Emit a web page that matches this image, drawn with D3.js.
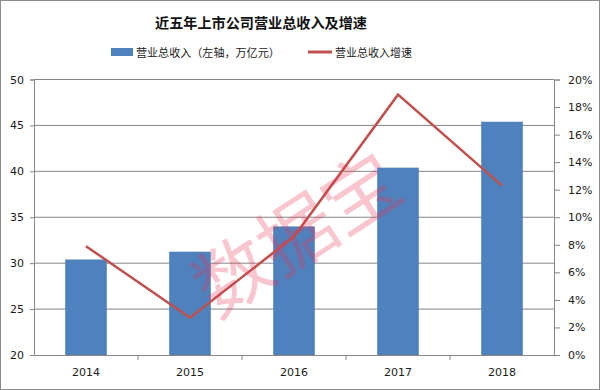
<!DOCTYPE html>
<html>
<head>
<meta charset="utf-8">
<script src="https://cdn.jsdelivr.net/npm/d3@7"></script>
<style>
  body { margin: 0; background: #fff; }
  svg text { font-family: "DejaVu Sans", "Noto Sans CJK SC", sans-serif; }
  .cjk { font-family: "Noto Sans CJK SC", sans-serif !important; }
</style>
</head>
<body>
<div id="chart-area"></div>
<script>
const FIGURE = { WIDTH: 600, HEIGHT: 390 };
const MARGINS = { LEFT: 34, TOP: 79.5, RIGHT: 46, BOTTOM: 35 };
const PLOT = {
    WIDTH: FIGURE.WIDTH - MARGINS.LEFT - MARGINS.RIGHT,
    HEIGHT: FIGURE.HEIGHT - MARGINS.TOP - MARGINS.BOTTOM
};

// data
const years = ["2014", "2015", "2016", "2017", "2018"];
const revenue = [30.4, 31.25, 34.0, 40.4, 45.4];      // 万亿元, left axis
const growth = [7.9, 2.7, 8.6, 18.9, 12.3];           // %, right axis
const leftTicks = [20, 25, 30, 35, 40, 45, 50];
const rightTicks = [0, 2, 4, 6, 8, 10, 12, 14, 16, 18, 20];

const title = "近五年上市公司营业总收入及增速";
const barLabel = "营业总收入（左轴，万亿元）";
const lineLabel = "营业总收入增速";

let svg = d3.select("#chart-area")
    .append("svg")
        .attr("width", FIGURE.WIDTH)
        .attr("height", FIGURE.HEIGHT);

// outer frame
svg.append("rect")
    .attr("x", 0.5).attr("y", 0.5)
    .attr("width", FIGURE.WIDTH - 1).attr("height", FIGURE.HEIGHT - 1)
    .attr("fill", "#fff").attr("stroke", "#8c8c8c");

let plot = svg.append("g")
    .attr("transform", `translate(${MARGINS.LEFT}, ${MARGINS.TOP})`);

let x = d3.scaleBand().domain(years).range([0, PLOT.WIDTH]).paddingInner(0.6).paddingOuter(0.3);
let xPoint = d3.scaleBand().domain(years).range([0, PLOT.WIDTH]);
let y = d3.scaleLinear().domain([20, 50]).range([PLOT.HEIGHT, 0]);
let y2 = d3.scaleLinear().domain([0, 20]).range([PLOT.HEIGHT, 0]);

// gridlines
plot.append("g")
    .selectAll("line")
    .data(leftTicks.slice(1))
    .enter()
    .append("line")
        .attr("x1", 0).attr("x2", PLOT.WIDTH)
        .attr("y1", d => y(d)).attr("y2", d => y(d))
        .attr("stroke", "#868686");

// bars
plot.selectAll("rect.bar")
    .data(years)
    .enter()
    .append("rect")
        .attr("class", "bar")
        .attr("x", d => x(d))
        .attr("width", x.bandwidth())
        .attr("y", (d, i) => y(revenue[i]))
        .attr("height", (d, i) => PLOT.HEIGHT - y(revenue[i]))
        .attr("fill", "#4f81bd");

// watermark, semi-transparent over the bars
svg.append("text")
    .attr("class", "cjk")
    .attr("transform", "translate(294, 230) rotate(-33)")
    .attr("text-anchor", "middle")
    .attr("dominant-baseline", "central")
    .attr("font-size", 76)
    .attr("fill", "#eb3250")
    .attr("opacity", 0.27)
    .text("数据宝");

// axes
let yAxis = d3.axisLeft(y).tickValues(leftTicks).tickSize(4).tickPadding(6);
let gy = plot.append("g").call(yAxis);
let y2Axis = d3.axisRight(y2).tickValues(rightTicks).tickSize(6).tickPadding(8).tickFormat(d => d + "%");
let gy2 = plot.append("g").attr("transform", `translate(${PLOT.WIDTH}, 0)`).call(y2Axis);
let xAxis = d3.axisBottom(xPoint).tickSize(0).tickPadding(13);
let gx = plot.append("g").attr("transform", `translate(0, ${PLOT.HEIGHT})`).call(xAxis);

// band boundary ticks on the x axis
gx.selectAll("line.sep")
    .data(years.slice(1))
    .enter()
    .append("line")
        .attr("class", "sep")
        .attr("x1", d => xPoint(d)).attr("x2", d => xPoint(d))
        .attr("y1", 0).attr("y2", 5);

[gy, gy2, gx].forEach(g => {
    g.select(".domain").attr("stroke", "#868686");
    g.selectAll("line").attr("stroke", "#868686");
    g.selectAll("text").attr("fill", "#1a1a1a").attr("font-size", 11);
});

// growth line
let line = d3.line()
    .x((d, i) => xPoint(years[i]) + xPoint.bandwidth() / 2)
    .y(d => y2(d));
plot.append("path")
    .datum(growth)
    .attr("d", line)
    .attr("fill", "none")
    .attr("stroke", "#c0504d")
    .attr("stroke-width", 2.5);

// fit a text node to a target width by adjusting its font size
function fitWidth(sel, target) {
    let w = sel.node().getComputedTextLength();
    let fs = parseFloat(sel.attr("font-size"));
    if (w > 0) sel.attr("font-size", fs * target / w);
}

// title
let titleText = svg.append("text")
    .attr("class", "cjk")
    .attr("x", 261).attr("y", 28)
    .attr("text-anchor", "middle")
    .attr("font-size", 15)
    .attr("font-weight", "bold")
    .attr("fill", "#111")
    .text(title);
fitWidth(titleText, 212);

// legend
let legend = svg.append("g").attr("class", "legend");
legend.append("rect")
    .attr("x", 111).attr("y", 48).attr("width", 22).attr("height", 8)
    .attr("fill", "#4f81bd");
let barText = legend.append("text")
    .attr("class", "cjk")
    .attr("x", 136).attr("y", 57)
    .attr("font-size", 12).attr("fill", "#1a1a1a")
    .text(barLabel);
fitWidth(barText, 144);
legend.append("line")
    .attr("x1", 308).attr("x2", 332).attr("y1", 52).attr("y2", 52)
    .attr("stroke", "#c0504d").attr("stroke-width", 3);
let lineText = legend.append("text")
    .attr("class", "cjk")
    .attr("x", 335).attr("y", 57)
    .attr("font-size", 12).attr("fill", "#1a1a1a")
    .text(lineLabel);
fitWidth(lineText, 77);
</script>
</body>
</html>
